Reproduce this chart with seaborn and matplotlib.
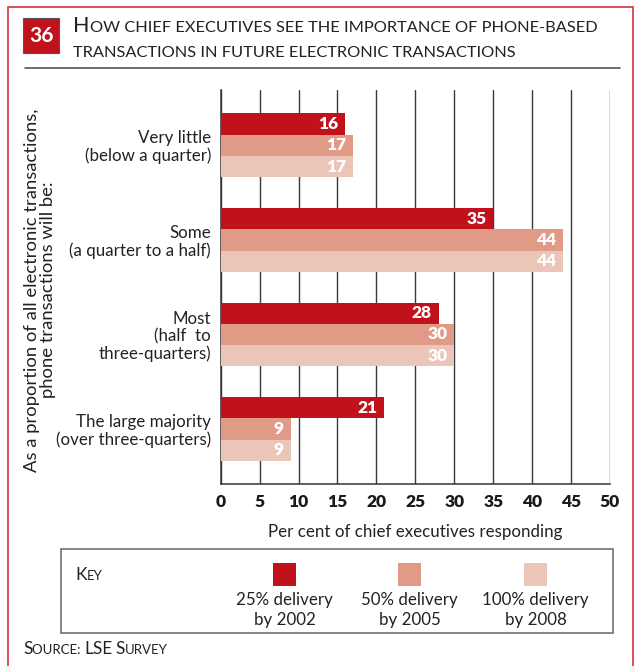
import matplotlib
matplotlib.use("Agg")
import matplotlib.pyplot as plt
import matplotlib.patches as mpatches
import matplotlib.lines as mlines
import seaborn as sns
import pandas as pd

# ---- data ----
categories = [
    "Very little\n(below a quarter)",
    "Some\n(a quarter to a half)",
    "Most\n(half  to\nthree-quarters)",
    "The large majority\n(over three-quarters)",
]
series_names = ["25% delivery\nby 2002", "50% delivery\nby 2005", "100% delivery\nby 2008"]
values_2002 = [16, 35, 28, 21]
values_2005 = [17, 44, 30, 9]
values_2008 = [17, 44, 30, 9]
series_colors = ["#C1121C", "#E09A86", "#EBC5B8"]
x_ticks = [0, 5, 10, 15, 20, 25, 30, 35, 40, 45, 50]

title_line1 = "How chief executives see the importance of phone-based"
title_line2 = "transactions in future electronic transactions"
figure_number = "36"
x_label = "Per cent of chief executives responding"
y_label = "As a proportion of all electronic transactions,\nphone transactions will be:"
key_label = "Key"
source_label = "Source: LSE Survey"

rows = []
for name, vals in zip(series_names, [values_2002, values_2005, values_2008]):
    for c, v in zip(categories, vals):
        rows.append({"category": c, "series": name, "value": v})
df = pd.DataFrame(rows)

# ---- figure ----
W, H = 637, 666
sns.set_theme(style="white")
plt.rcParams["font.family"] = ["Lato", "DejaVu Sans"]

fig = plt.figure(figsize=(W / 100, H / 100), dpi=100)
fig.patch.set_facecolor("white")

def fx(x):
    return x / W

def fy(y):
    return 1 - y / H

ax_left, ax_right, ax_top, ax_bottom = 220.7, 610, 90, 484
ax = fig.add_axes([fx(ax_left), fy(ax_bottom), (ax_right - ax_left) / W, (ax_bottom - ax_top) / H])

sns.barplot(data=df, y="category", x="value", hue="series", order=categories,
            hue_order=series_names, palette=series_colors, orient="h",
            width=0.676, saturation=1, linewidth=0, legend=False, ax=ax, zorder=3)

ax.set_xlim(0, 50)
ax.set_ylim(3.58, -0.584)
ax.set_xticks(x_ticks)
ax.set_xticklabels([str(t) for t in x_ticks], fontsize=12.5, fontweight="heavy", color="#1a1a1a")
ax.tick_params(axis="x", length=0, pad=7)
ax.tick_params(axis="y", length=0, pad=7)
for lab in ax.get_yticklabels():
    lab.set_fontsize(12.2)
    lab.set_color("#222222")
    lab.set_multialignment("right")
    lab.set_linespacing(1.1)

ax.grid(axis="x", color="#3a3a3a", linewidth=1.0)
ax.grid(axis="y", visible=False)
ax.set_axisbelow(True)
for s in ["top", "right"]:
    ax.spines[s].set_visible(False)
for s in ["left", "bottom"]:
    ax.spines[s].set_color("#333333")
    ax.spines[s].set_linewidth(1.1)

ax.set_ylabel("")
ax.set_xlabel(x_label, fontsize=12.2, color="#222222", labelpad=10)

# value labels inside bars
for cont in ax.containers:
    for bar in cont:
        w = bar.get_width()
        ax.annotate(f"{w:.0f}", xy=(w, bar.get_y() + bar.get_height() / 2),
                    xytext=(-5, 0), textcoords="offset points", ha="right", va="center",
                    fontsize=12.5, fontweight="heavy", color="white", zorder=5)

# y label
fig.text(fx(40), fy(290), y_label, rotation=90, ha="center", va="center",
         multialignment="center", fontsize=13.3, color="#222222", linespacing=1.05)

# ---- small caps helper ----
renderer = fig.canvas.get_renderer()

def small_caps(x_px, y_px, text, big, small, color="#222222"):
    runs = []
    for ch in text:
        is_big = ch.isalpha() and ch.isupper()
        if runs and runs[-1][1] == is_big:
            runs[-1][0] += ch.upper()
        else:
            runs.append([ch.upper(), is_big])
    x = x_px
    for s, is_big in runs:
        t = fig.text(fx(x), fy(y_px), s, fontsize=big if is_big else small,
                     ha="left", va="baseline", color=color)
        x += t.get_window_extent(renderer=renderer).width

# outer red border
fig.add_artist(mpatches.Rectangle((fx(8), fy(700)), (633 - 8) / W, (700 - 7) / H,
                                  transform=fig.transFigure, fill=False,
                                  edgecolor="#D9414B", linewidth=1.3))

# number box
fig.add_artist(mpatches.Rectangle((fx(23), fy(53)), 36 / W, 35 / H, transform=fig.transFigure,
                                  facecolor="#C1121C", edgecolor="#555555", linewidth=0.8))
fig.text(fx(41), fy(36), figure_number, ha="center", va="center", fontsize=15,
         fontweight="bold", color="white")

small_caps(73, 32, title_line1, 15.5, 11.8)
small_caps(73, 57, title_line2, 15.5, 11.8)

fig.add_artist(mlines.Line2D([fx(25), fx(620)], [fy(68), fy(68)], transform=fig.transFigure,
                             color="#555555", linewidth=1.2))

# key box
fig.add_artist(mpatches.Rectangle((fx(61), fy(633)), (612.5 - 61) / W, (633 - 549) / H,
                                  transform=fig.transFigure, fill=False,
                                  edgecolor="#666666", linewidth=1.1))
small_caps(75, 580, key_label, 12.5, 9.5)

swatch_x = [273, 398, 524]
for sx, name, col in zip(swatch_x, series_names, series_colors):
    fig.add_artist(mpatches.Rectangle((fx(sx), fy(586)), 23 / W, 23 / H,
                                      transform=fig.transFigure, facecolor=col, edgecolor="none"))
    l1, l2 = name.split("\n")
    cx = sx + 11.5
    fig.text(fx(cx), fy(605), l1, ha="center", va="baseline", fontsize=12.2, color="#222222")
    fig.text(fx(cx), fy(625), l2, ha="center", va="baseline", fontsize=12.2, color="#222222")

small_caps(23, 654, source_label, 12.5, 9.5)

fig.savefig("out.png", dpi=100, facecolor="white")
